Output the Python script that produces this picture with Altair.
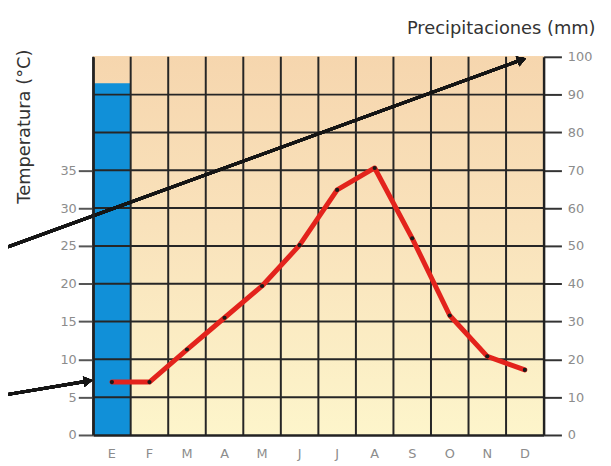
import altair as alt
import pandas as pd

meses = ["Enero", "Febrero", "Marzo", "Abril", "Mayo", "Junio", "Julio",
         "Agosto", "Septiembre", "Octubre", "Noviembre", "Diciembre"]
temperatura = [7, 7, 11.3, 15.5, 19.7, 25.1, 32.4, 35.3, 26, 15.8, 10.4, 8.6]
precipitacion = [93, 0, 0, 0, 0, 0, 0, 0, 0, 0, 0, 0]
temp_ticks = [0, 5, 10, 15, 20, 25, 30, 35]
temp_grid = [5, 10, 15, 20, 25, 30, 35, 40, 45]
prec_ticks = [0, 10, 20, 30, 40, 50, 60, 70, 80, 90, 100]

df = pd.DataFrame({"mes": meses, "temp": temperatura, "prec": precipitacion})
grid_df = pd.DataFrame({"t": temp_grid})

W, H = 455, 382
FONT = "DejaVu Sans"
GRID = "#262626"

x_axis = alt.Axis(title=None, labelExpr="substring(datum.value, 0, 1)",
                  ticks=False, tickSize=0, labelPadding=13, labelAngle=0,
                  labelColor="#8c8c8c", labelFontSize=13, labelFont=FONT,
                  domainColor="#222222", domainWidth=2.5, grid=False, zindex=1)
x_scale = alt.Scale(paddingInner=0, paddingOuter=0)


def xenc(**kw):
    return alt.X("mes:N", sort=meses, scale=x_scale, axis=x_axis, **kw)


temp_scale = alt.Scale(domain=[0, 50], nice=False, zero=True)
prec_scale = alt.Scale(domain=[0, 100], nice=False, zero=True)

temp_axis = alt.Axis(orient="left", values=temp_ticks,
                     title="Temperatura (°C)", titleAngle=270,
                     titleAlign="center", titleBaseline="alphabetic",
                     titleX=-64, titleY=70, titleFont=FONT,
                     titleFontSize=18, titleFontWeight="normal",
                     titleColor="#333333",
                     labelColor="#8c8c8c", labelFontSize=13, labelFont=FONT,
                     tickSize=15, tickWidth=2, tickColor="#555555",
                     labelPadding=2, domainColor="#222222", domainWidth=2.5,
                     grid=False, zindex=1)

bg = alt.Chart(df).mark_rect(
    color=alt.LinearGradient(
        gradient="linear",
        stops=[alt.GradientStop(color="#f6d6ae", offset=0),
               alt.GradientStop(color="#f9e2bb", offset=0.45),
               alt.GradientStop(color="#fdf5cb", offset=1)],
        x1=0, x2=0, y1=0, y2=1)
).encode(x=alt.value(0), x2=alt.value(W), y=alt.value(0), y2=alt.value(H))

bars = alt.Chart(df).mark_bar(color="#1190d8").encode(
    x=xenc(),
    y=alt.Y("prec:Q", scale=prec_scale,
            axis=alt.Axis(orient="right", values=prec_ticks,
                          title="Precipitaciones (mm)", titleAngle=0,
                          titleAlign="right", titleBaseline="alphabetic",
                          titleX=52, titleY=-24, titleFont=FONT,
                          titleFontSize=18, titleFontWeight="normal",
                          titleColor="#333333",
                          labelColor="#8c8c8c", labelFontSize=13, labelFont=FONT,
                          tickSize=18, tickWidth=2, tickColor="#333333",
                          labelPadding=6, domainColor="#222222", domainWidth=2.5,
                          grid=False, zindex=1)),
)

vrules = alt.Chart(df).mark_rule(color=GRID, strokeWidth=2).encode(
    x=xenc(bandPosition=0)
)

hrules = alt.Chart(grid_df).mark_rule(color=GRID, strokeWidth=2).encode(
    y=alt.Y("t:Q", scale=temp_scale, axis=temp_axis),
)

line = alt.Chart(df).mark_line(color="#e3231c", strokeWidth=5,
                               strokeCap="round", strokeJoin="round").encode(
    x=xenc(), y=alt.Y("temp:Q", scale=temp_scale, axis=temp_axis)
)

pts = alt.Chart(df).mark_point(filled=True, color="#1a1a1a", size=18,
                               opacity=1).encode(
    x=xenc(), y=alt.Y("temp:Q", scale=temp_scale, axis=temp_axis)
)

temp_group = alt.layer(hrules, line, pts)

arrow1 = alt.Chart(df).mark_rule(color="#151515", strokeWidth=3).encode(
    x=alt.value(-86), y=alt.value(192), x2=alt.value(430), y2=alt.value(4)
)
head1 = alt.Chart(df).mark_point(shape="triangle-right", filled=True,
                                 color="#151515", size=110, opacity=1,
                                 angle=340).encode(
    x=alt.value(433), y=alt.value(3)
)
arrow2 = alt.Chart(df).mark_rule(color="#151515", strokeWidth=3).encode(
    x=alt.value(-86), y=alt.value(341), x2=alt.value(-8), y2=alt.value(328)
)
head2 = alt.Chart(df).mark_point(shape="triangle-right", filled=True,
                                 color="#151515", size=110, opacity=1,
                                 angle=351).encode(
    x=alt.value(-5), y=alt.value(327.5)
)

chart = alt.layer(bg, bars, vrules, temp_group, arrow1, head1, arrow2, head2
                  ).resolve_scale(y="independent").properties(
    width=W, height=H,
    autosize=alt.AutoSizeParams(type="none"),
    padding={"left": 86, "top": 47, "right": 60, "bottom": 25},
    background="white",
).configure_view(stroke=None)

chart.save("out.html", embed_options={"renderer": "svg", "actions": False})
